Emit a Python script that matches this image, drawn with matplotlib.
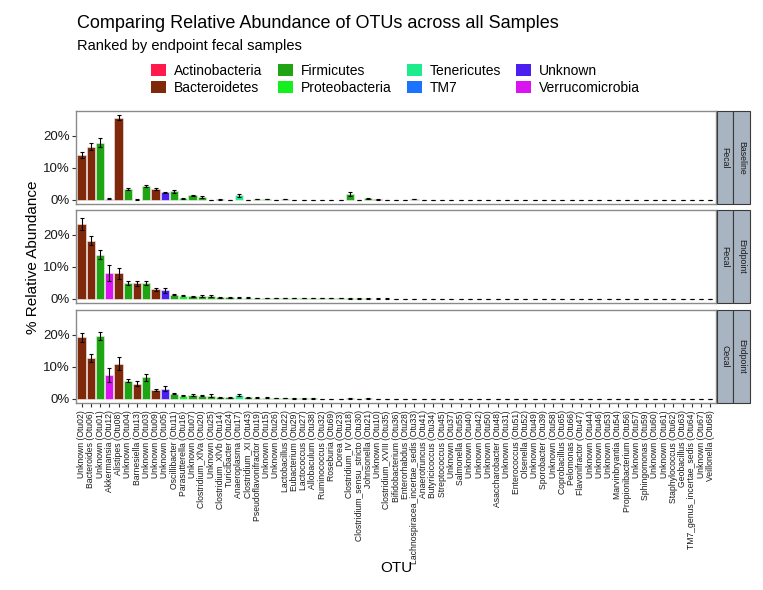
import matplotlib
matplotlib.use("Agg")
import matplotlib.pyplot as plt
from matplotlib.patches import Rectangle, Patch
import numpy as np

plt.rcParams['font.family'] = ['Liberation Sans', 'DejaVu Sans']

# OTUs ranked by endpoint fecal abundance
otus = [
    "Unknown (Otu02)", "Bacteroides (Otu06)", "Unknown (Otu01)", "Akkermansia (Otu12)",
    "Alistipes (Otu08)", "Unknown (Otu04)", "Barnesiella (Otu13)", "Unknown (Otu03)",
    "Unknown (Otu09)", "Unknown (Otu05)", "Oscillibacter (Otu11)", "Parasutterella (Otu16)",
    "Unknown (Otu07)", "Clostridium_XlVa (Otu20)", "Unknown (Otu25)", "Clostridium_XlVb (Otu14)",
    "Turicibacter (Otu24)", "Anaeroplasma (Otu17)", "Clostridium_XI (Otu43)",
    "Pseudoflavonifractor (Otu19)", "Unknown (Otu15)", "Unknown (Otu26)", "Lactobacillus (Otu22)",
    "Eubacterium (Otu29)", "Lactococcus (Otu27)", "Allobaculum (Otu38)", "Ruminococcus (Otu32)",
    "Roseburia (Otu69)", "Dorea (Otu23)", "Clostridium_IV (Otu18)",
    "Clostridium_sensu_stricto (Otu30)", "Johnsonella (Otu21)", "Unknown (Otu10)",
    "Clostridium_XVIII (Otu35)", "Bifidobacterium (Otu36)", "Enterorhabdus (Otu28)",
    "Lachnospiracea_incertae_sedis (Otu33)", "Anaerotruncus (Otu41)", "Butyricicoccus (Otu34)",
    "Streptococcus (Otu45)", "Unknown (Otu37)", "Salmonella (Otu55)", "Unknown (Otu40)",
    "Unknown (Otu42)", "Unknown (Otu50)", "Asaccharobacter (Otu48)", "Unknown (Otu31)",
    "Enterococcus (Otu51)", "Olsenella (Otu52)", "Unknown (Otu49)", "Sporobacter (Otu39)",
    "Unknown (Otu58)", "Coprobacillus (Otu65)", "Pelomonas (Otu66)", "Flavonifractor (Otu47)",
    "Unknown (Otu44)", "Unknown (Otu46)", "Unknown (Otu53)", "Marvinbryantia (Otu54)",
    "Propionibacterium (Otu56)", "Unknown (Otu57)", "Sphingomonas (Otu59)", "Unknown (Otu60)",
    "Unknown (Otu61)", "Staphylococcus (Otu62)", "Geobacillus (Otu63)",
    "TM7_genus_incertae_sedis (Otu64)", "Unknown (Otu67)", "Veillonella (Otu68)",
]

phylum = [
    "Bacteroidetes", "Bacteroidetes", "Firmicutes", "Verrucomicrobia",
    "Bacteroidetes", "Firmicutes", "Bacteroidetes", "Firmicutes",
    "Bacteroidetes", "Unknown", "Firmicutes", "Proteobacteria",
    "Firmicutes", "Firmicutes", "Firmicutes", "Firmicutes",
    "Firmicutes", "Tenericutes", "Firmicutes",
    "Firmicutes", "Firmicutes", "Firmicutes", "Firmicutes",
    "Firmicutes", "Firmicutes", "Firmicutes", "Firmicutes",
    "Firmicutes", "Firmicutes", "Firmicutes",
    "Firmicutes", "Firmicutes", "Bacteroidetes",
    "Firmicutes", "Actinobacteria", "Actinobacteria",
    "Firmicutes", "Firmicutes", "Firmicutes",
    "Firmicutes", "Firmicutes", "Proteobacteria", "Firmicutes",
    "Bacteroidetes", "Firmicutes", "Actinobacteria", "Firmicutes",
    "Firmicutes", "Actinobacteria", "Firmicutes", "Firmicutes",
    "Firmicutes", "Firmicutes", "Proteobacteria", "Firmicutes",
    "Firmicutes", "Bacteroidetes", "Firmicutes", "Firmicutes",
    "Actinobacteria", "Firmicutes", "Proteobacteria", "Firmicutes",
    "Firmicutes", "Firmicutes", "Firmicutes",
    "TM7", "Firmicutes", "Firmicutes",
]

phyla = ["Actinobacteria", "Bacteroidetes", "Firmicutes", "Proteobacteria",
         "Tenericutes", "TM7", "Unknown", "Verrucomicrobia"]
phylum_colors = ["#FF1A4B", "#80290A", "#1FA514", "#14F01E",
                 "#1EEB8C", "#1A72FF", "#4A1FF0", "#D914F0"]

# mean % relative abundance and standard error
baseline_fecal = [14.1, 16.6, 17.9, 0.3, 25.7, 3.4, 0.05, 4.4, 3.3, 2.3, 2.6, 0.5, 1.4, 0.9,
                  0.0, 0.1, 0.0, 1.4, 0.0, 0.15, 0.15, 0.0, 0.15, 0.0, 0.0, 0.0, 0.0, 0.0, 0.0,
                  1.8, 0.0, 0.4, 0.1, 0.0, 0.0, 0.0, 0.15, 0.0, 0.0, 0.0, 0.0, 0.0, 0.0, 0.0,
                  0.0, 0.0, 0.0, 0.0, 0.0, 0.0, 0.0, 0.0, 0.0, 0.0, 0.0, 0.0, 0.0, 0.0, 0.0,
                  0.0, 0.0, 0.0, 0.0, 0.0, 0.0, 0.0, 0.0, 0.0, 0.0]
baseline_fecal_se = [1.0, 1.1, 1.4, 0.2, 0.8, 0.3, 0.05, 0.3, 0.4, 0.2, 0.4, 0.15, 0.2, 0.3,
                     0.0, 0.05, 0.0, 0.5, 0.0, 0.05, 0.05, 0.0, 0.05, 0.0, 0.0, 0.0, 0.0, 0.0,
                     0.0, 0.6, 0.0, 0.15, 0.05, 0.0, 0.0, 0.0, 0.05, 0.0, 0.0, 0.0, 0.0, 0.0,
                     0.0, 0.0, 0.0, 0.0, 0.0, 0.0, 0.0, 0.0, 0.0, 0.0, 0.0, 0.0, 0.0, 0.0, 0.0,
                     0.0, 0.0, 0.0, 0.0, 0.0, 0.0, 0.0, 0.0, 0.0, 0.0, 0.0, 0.0]

endpoint_fecal = [23.4, 18.2, 13.75, 8.1, 8.0, 4.9, 4.9, 4.9, 2.9, 2.7, 1.25, 0.95, 0.85, 0.85,
                  0.75, 0.5, 0.4, 0.3, 0.3, 0.28, 0.25, 0.22, 0.2, 0.18, 0.17, 0.15, 0.14,
                  0.12, 0.11, 0.1, 0.09, 0.08, 0.07, 0.06, 0.05, 0.04, 0.03, 0.03, 0.02, 0.02,
                  0.01, 0.01, 0.01, 0.01, 0.01, 0.0, 0.0, 0.0, 0.0, 0.0, 0.0, 0.0, 0.0, 0.0,
                  0.0, 0.0, 0.0, 0.0, 0.0, 0.0, 0.0, 0.0, 0.0, 0.0, 0.0, 0.0, 0.0, 0.0, 0.0]
endpoint_fecal_se = [1.9, 1.35, 1.45, 2.4, 1.7, 0.6, 0.8, 0.7, 0.4, 0.8, 0.2, 0.15, 0.15, 0.2,
                     0.35, 0.15, 0.1, 0.1, 0.1, 0.08, 0.08, 0.06, 0.06, 0.05, 0.05, 0.05, 0.04,
                     0.04, 0.03, 0.03, 0.03, 0.02, 0.02, 0.02, 0.02, 0.01, 0.01, 0.01, 0.01,
                     0.01, 0.0, 0.0, 0.0, 0.0, 0.0, 0.0, 0.0, 0.0, 0.0, 0.0, 0.0, 0.0, 0.0,
                     0.0, 0.0, 0.0, 0.0, 0.0, 0.0, 0.0, 0.0, 0.0, 0.0, 0.0, 0.0, 0.0, 0.0,
                     0.0, 0.0]

endpoint_cecal = [19.3, 12.8, 19.7, 7.4, 11.0, 5.6, 4.7, 6.7, 2.8, 3.2, 1.55, 0.95, 1.25, 0.95,
                  0.95, 0.5, 0.45, 1.05, 0.4, 0.3, 0.3, 0.2, 0.12, 0.1, 0.08, 0.1, 0.05, 0.05,
                  0.05, 0.1, 0.05, 0.1, 0.03, 0.03, 0.02, 0.02, 0.05, 0.01, 0.01, 0.01, 0.0,
                  0.0, 0.0, 0.0, 0.0, 0.0, 0.0, 0.0, 0.0, 0.0, 0.0, 0.0, 0.0, 0.0, 0.0, 0.0,
                  0.0, 0.0, 0.0, 0.0, 0.0, 0.0, 0.0, 0.0, 0.0, 0.0, 0.0, 0.0, 0.0]
endpoint_cecal_se = [1.45, 1.25, 1.15, 2.1, 2.0, 0.5, 0.8, 1.15, 0.4, 0.8, 0.2, 0.2, 0.25, 0.2,
                     0.5, 0.15, 0.1, 0.3, 0.1, 0.1, 0.1, 0.05, 0.04, 0.03, 0.03, 0.04, 0.02,
                     0.02, 0.02, 0.04, 0.02, 0.04, 0.01, 0.01, 0.01, 0.01, 0.02, 0.0, 0.0, 0.0,
                     0.0, 0.0, 0.0, 0.0, 0.0, 0.0, 0.0, 0.0, 0.0, 0.0, 0.0, 0.0, 0.0, 0.0, 0.0,
                     0.0, 0.0, 0.0, 0.0, 0.0, 0.0, 0.0, 0.0, 0.0, 0.0, 0.0, 0.0, 0.0, 0.0]

panels = [
    ("Fecal", "Baseline", baseline_fecal, baseline_fecal_se),
    ("Fecal", "Endpoint", endpoint_fecal, endpoint_fecal_se),
    ("Cecal", "Endpoint", endpoint_cecal, endpoint_cecal_se),
]

W, H = 763, 590
fig = plt.figure(figsize=(W / 100, H / 100), dpi=100)


def fx(px):
    return px / W


def fy(py):
    return 1 - py / H


color_of = dict(zip(phyla, phylum_colors))
bar_colors = [color_of[p] for p in phylum]
x = np.arange(len(otus))

panel_left, panel_right = 76, 716
panel_tops = [111, 210, 310]
panel_h = 93
strip_w = [16, 17]

for i, (site, time, vals, errs) in enumerate(panels):
    top = panel_tops[i]
    ax = fig.add_axes([fx(panel_left), fy(top + panel_h), fx(panel_right - panel_left), panel_h / H])
    ax.bar(x, vals, width=0.9, color=bar_colors, edgecolor='#f4eeee', linewidth=0.4, zorder=2)
    ax.errorbar(x, vals, yerr=errs, fmt='none', ecolor='black', elinewidth=0.8,
                capsize=1.3, capthick=0.8, zorder=3)
    ax.set_xlim(-0.6, len(otus) - 0.4)
    ax.set_ylim(-1.33, 27.8)
    ax.set_yticks([0, 10, 20])
    ax.set_yticklabels(['0%', '10%', '20%'])
    ax.tick_params(axis='y', length=2.8, width=0.8, color='#333333', labelsize=9.5,
                   labelcolor='#1a1a1a', pad=1.5)
    for s in ax.spines.values():
        s.set_color('#8a8a8a')
        s.set_linewidth(1.0)
    if i == len(panels) - 1:
        ax.set_xticks(x)
        ax.set_xticklabels(otus, rotation=90, fontsize=6.2, color='#1a1a1a')
        ax.tick_params(axis='x', length=2.8, width=0.8, color='#333333', pad=2.5)
    else:
        ax.set_xticks([])

    # facet strips
    sx = panel_right + 1
    for label, w in zip([site, time], strip_w):
        fig.patches.append(Rectangle((fx(sx), fy(top + panel_h)), fx(w), panel_h / H,
                                     transform=fig.transFigure, facecolor='#A9B4C2',
                                     edgecolor='#3a3a3a', linewidth=0.8))
        fig.text(fx(sx + w / 2), fy(top + panel_h / 2), label, rotation=-90,
                 ha='center', va='center', fontsize=6.3, color='#1a1a1a')
        sx += w

fig.text(fx(77), fy(28), "Comparing Relative Abundance of OTUs across all Samples",
         fontsize=13, va='baseline', ha='left')
fig.text(fx(77), fy(50), "Ranked by endpoint fecal samples",
         fontsize=10.5, va='baseline', ha='left')

fig.text(fx(33), fy((111 + 403) / 2), "% Relative Abundance", rotation=90,
         ha='center', va='center', fontsize=11)
fig.text(fx(396), fy(568), "OTU", ha='center', va='center', fontsize=11)

handles = [Patch(facecolor=c, edgecolor='none') for c in phylum_colors]
fig.legend(handles, phyla, ncol=4, loc='upper left', bbox_to_anchor=(fx(151), fy(64)),
           frameon=False, fontsize=10, handlelength=1.1, handleheight=1.0,
           handletextpad=0.55, columnspacing=1.1, labelspacing=0.2,
           borderpad=0, borderaxespad=0)

fig.savefig("out.png", dpi=100)
